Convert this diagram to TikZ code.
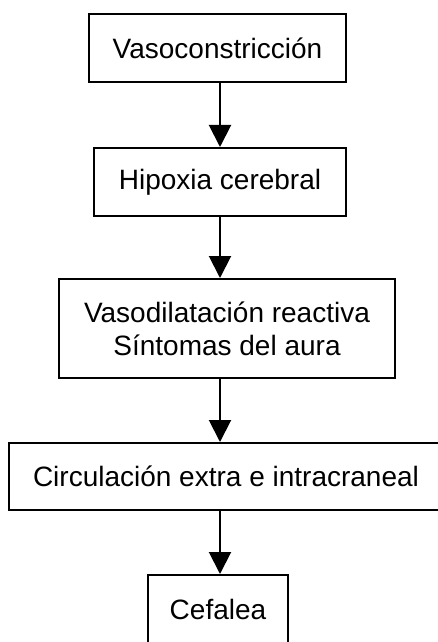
\documentclass[tikz,border=0pt]{standalone}
\usepackage{fontspec}
\setmainfont{Liberation Sans}
\usetikzlibrary{arrows.meta}

\begin{document}
\begin{tikzpicture}[x=0.5pt,y=-0.5pt,
    caja/.style={draw,line width=1pt,inner sep=0pt,align=center,
      font=\fontsize{14}{16.5}\selectfont},
    flecha/.style={line width=1pt,-{Triangle[length=11pt,width=11pt]}}]
    \useasboundingbox (0,0) rectangle (438,642);
    \clip (0,0) rectangle (438,642);
    \coordinate (eje) at (220,0);
    \node[caja,minimum width=128.5pt,minimum height=34pt] (vaso) at (217.5,48) {Vasoconstricción};
    \node[caja,minimum width=126pt,minimum height=34pt] (hipo) at (220,182) {Hipoxia cerebral};
    \node[caja,minimum width=168pt,minimum height=49.5pt] (dila) at (227,328.5) {Vasodilatación reactiva\\Síntomas del aura};
    \node[caja,minimum width=217pt,minimum height=33.5pt] (circ) at (226,476.5) {Circulación extra e intracraneal};
    \node[caja,minimum width=70pt,minimum height=34pt] (cefa) at (218,609) {Cefalea};
    \draw[flecha] (vaso.south -| eje) -- (hipo.north -| eje);
    \draw[flecha] (hipo.south -| eje) -- (dila.north -| eje);
    \draw[flecha] (dila.south -| eje) -- (circ.north -| eje);
    \draw[flecha] (circ.south -| eje) -- (cefa.north -| eje);
\end{tikzpicture}
\end{document}
